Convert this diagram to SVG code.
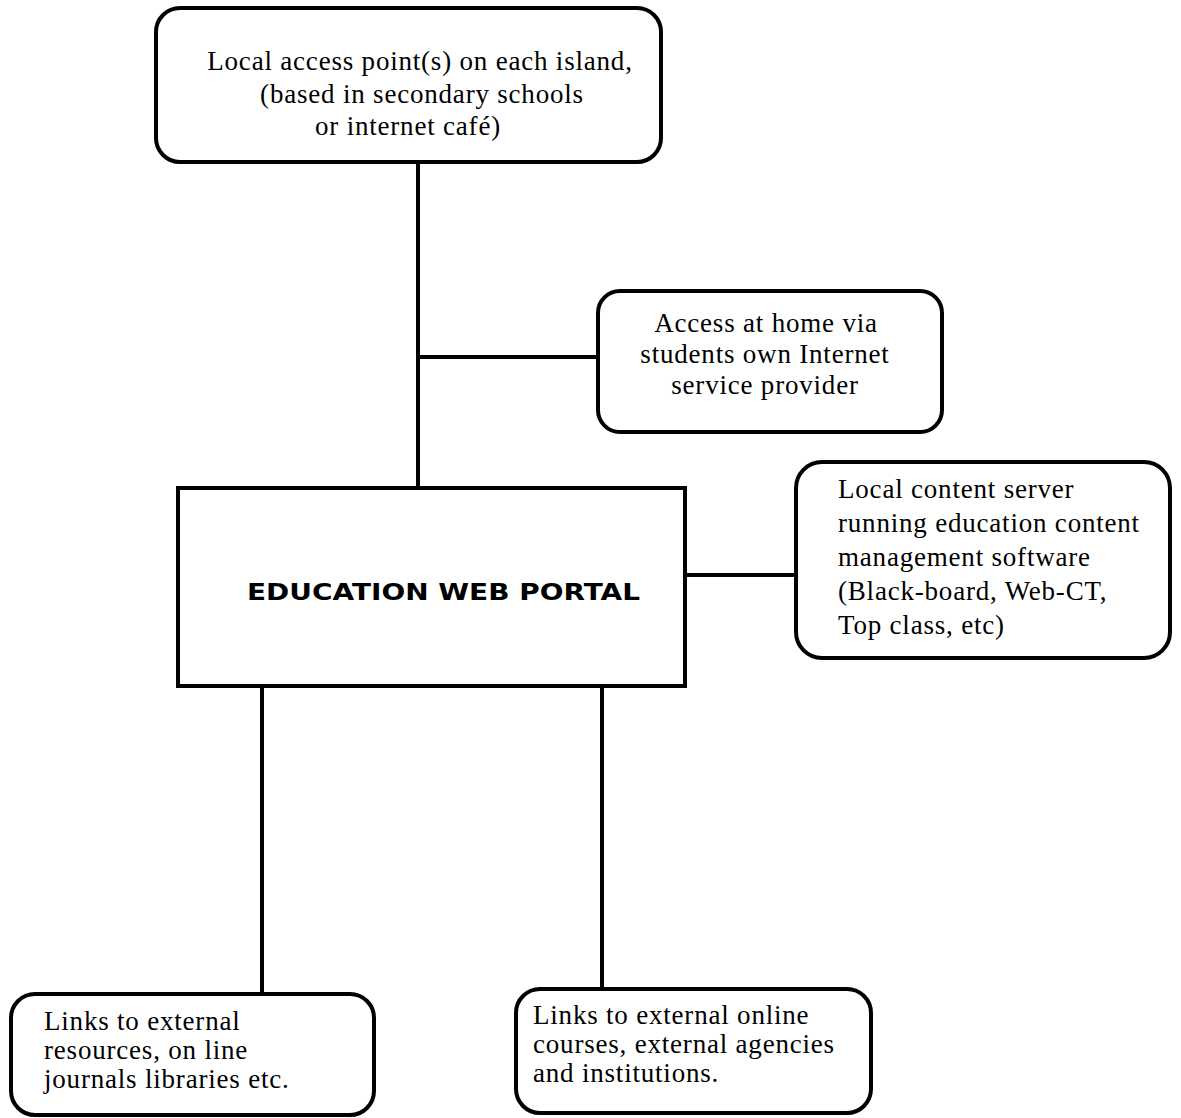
<svg xmlns="http://www.w3.org/2000/svg" width="1181" height="1118" viewBox="0 0 1181 1118">
<style>
.box{fill:#fff;stroke:#000;stroke-width:4}
.conn line{stroke:#000;stroke-width:4}
.t{font-family:"Liberation Serif","Times New Roman",serif;font-size:27px;letter-spacing:0.8px;fill:#000}
.c{text-anchor:middle}
.b{font-family:"DejaVu Sans","Verdana",sans-serif;font-weight:bold;font-size:23px;fill:#000}
</style>
<rect width="1181" height="1118" fill="#fff"/>
<g class="conn" id="connectors">
<line x1="418" y1="162" x2="418" y2="489"/>
<line x1="418" y1="357" x2="600" y2="357"/>
<line x1="685" y1="575" x2="797" y2="575"/>
<line x1="262" y1="686" x2="262" y2="994"/>
<line x1="602" y1="686" x2="602" y2="989"/>
</g>
<g id="n-local-access">
<rect class="box" x="156" y="8" width="505" height="154" rx="24"/>
<text class="t c" x="420" y="70">Local access point(s) on each island,</text>
<text class="t c" x="422" y="103">(based in secondary schools</text>
<text class="t c" x="408" y="135">or internet café)</text>
</g>
<g id="n-home">
<rect class="box" x="598" y="291" width="344" height="141" rx="22"/>
<text class="t c" x="766" y="332">Access at home via</text>
<text class="t c" x="765" y="363">students own Internet</text>
<text class="t c" x="765" y="394">service provider</text>
</g>
<g id="n-portal">
<rect class="box" x="178" y="488" width="507" height="198"/>
<text class="b" x="247" y="600" textLength="393" lengthAdjust="spacingAndGlyphs">EDUCATION WEB PORTAL</text>
</g>
<g id="n-server">
<rect class="box" x="796" y="462" width="374" height="196" rx="26"/>
<text class="t" x="838" y="498">Local content server</text>
<text class="t" x="838" y="532">running education content</text>
<text class="t" x="838" y="566">management software</text>
<text class="t" x="838" y="600">(Black-board, Web-CT,</text>
<text class="t" x="838" y="634">Top class, etc)</text>
</g>
<g id="n-resources">
<rect class="box" x="11" y="994" width="363" height="121" rx="24"/>
<text class="t" x="44" y="1030">Links to external</text>
<text class="t" x="44" y="1059">resources, on line</text>
<text class="t" x="44" y="1088">journals libraries etc.</text>
</g>
<g id="n-courses">
<rect class="box" x="516" y="989" width="355" height="124" rx="24"/>
<text class="t" x="533" y="1024">Links to external online</text>
<text class="t" x="533" y="1053">courses, external agencies</text>
<text class="t" x="533" y="1082">and institutions.</text>
</g>
</svg>
